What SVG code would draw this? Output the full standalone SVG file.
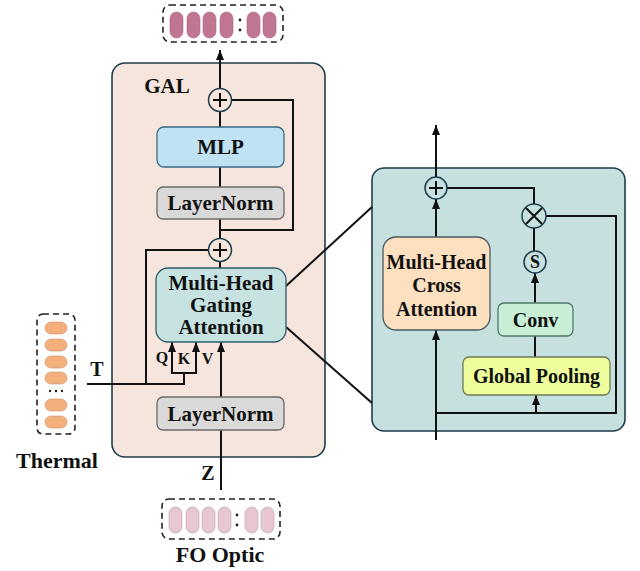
<svg xmlns="http://www.w3.org/2000/svg" width="640" height="571" viewBox="0 0 640 571">
  <style>
    text { font-family: "Liberation Serif", "Times New Roman", serif; font-weight: bold; fill: #111; text-anchor: middle; dominant-baseline: central; }
    .lbl { font-size: 21px; }
    .lbr { font-size: 20px; }
    .box { stroke-width: 1.3; }
    .wire { fill: none; stroke: #111; stroke-width: 2; }
    .arr { fill: none; stroke: #111; stroke-width: 2; marker-end: url(#ah); }
    .dash { fill: #fff; stroke: #222; stroke-width: 1.6; stroke-dasharray: 6 4; }
    .pillA { fill: #c07592; stroke: #a86680; stroke-width: 0.6; }
    .pillB { fill: #e8c6d2; stroke: #b9a0ab; stroke-width: 0.6; }
    .pillT { fill: #f4b07c; stroke: #c8906a; stroke-width: 0.6; }
  </style>
  <defs>
    <marker id="ah" markerUnits="userSpaceOnUse" markerWidth="10" markerHeight="10" viewBox="0 0 10 10" refX="10" refY="5" orient="auto">
      <path d="M0,1 L10,5 L0,9 Z" fill="#111"/>
    </marker>
  </defs>

  <rect width="640" height="571" fill="#fff"/>

  <!-- GAL container -->
  <g id="gal">
    <rect x="112" y="63" width="213" height="394" rx="13" fill="#f5e5dd" stroke="#1e3d4a" stroke-width="1.6"/>
    <text x="167" y="86" style="font-size:21px">GAL</text>
  </g>

  <!-- Detail panel -->
  <g id="detail">
    <rect x="372" y="168" width="253" height="263" rx="12" fill="#c6e0df" stroke="#1e3d4a" stroke-width="1.6"/>
  </g>

  <!-- connectors -->
  <g id="connectors">
    <!-- GAL trunk -->
    <line class="arr" x1="220" y1="88.5" x2="220" y2="50"/>
    <line class="wire" x1="220" y1="111.5" x2="220" y2="127"/>
    <line class="wire" x1="220" y1="167" x2="220" y2="187"/>
    <line class="wire" x1="220" y1="219" x2="220" y2="238.5"/>
    <polyline class="wire" points="231.5,100 293,100 293,230 220,230"/>
    <line class="wire" x1="220" y1="261.5" x2="220" y2="268"/>
    <polyline class="wire" points="208.5,250 146,250 146,384"/>
    <polyline class="wire" points="87,384 184,384 184,373"/>
    <line class="wire" x1="171" y1="373" x2="197" y2="373"/>
    <line class="arr" x1="172" y1="374" x2="172" y2="342"/>
    <line class="arr" x1="196" y1="374" x2="196" y2="342"/>
    <line class="arr" x1="221" y1="397" x2="221" y2="342"/>
    <line class="wire" x1="221" y1="490" x2="221" y2="430"/>
    <!-- zoom lines -->
    <line class="wire" x1="286" y1="286" x2="372" y2="207" stroke-width="1.8"/>
    <line class="wire" x1="286" y1="327" x2="372" y2="403" stroke-width="1.8"/>
    <!-- detail flow -->
    <line class="arr" x1="436" y1="177" x2="436" y2="125"/>
    <line class="arr" x1="436" y1="237" x2="436" y2="199"/>
    <polyline class="wire" points="447,188 534,188 534,204"/>
    <polyline class="wire" points="546,216 616,216 616,413 436,413"/>
    <line class="arr" x1="436" y1="440" x2="436" y2="330"/>
    <line class="arr" x1="536" y1="413" x2="536" y2="395"/>
    <line class="wire" x1="535" y1="357" x2="535" y2="336"/>
    <line class="arr" x1="535" y1="303" x2="535" y2="273"/>
    <line class="wire" x1="534" y1="251" x2="534" y2="228"/>
  </g>

  <!-- output tokens -->
  <g id="out-tokens">
    <rect class="dash" x="163" y="5" width="120" height="37" rx="7"/>
    <rect class="pillA" x="170" y="12" width="13" height="26" rx="6.5"/>
    <rect class="pillA" x="187" y="12" width="13" height="26" rx="6.5"/>
    <rect class="pillA" x="203" y="12" width="13" height="26" rx="6.5"/>
    <rect class="pillA" x="220" y="12" width="13" height="26" rx="6.5"/>
    <circle cx="240" cy="20" r="1.4" fill="#222"/>
    <circle cx="240" cy="30" r="1.4" fill="#222"/>
    <rect class="pillA" x="247" y="12" width="13" height="26" rx="6.5"/>
    <rect class="pillA" x="263" y="12" width="13" height="26" rx="6.5"/>
  </g>

  <g id="add-top">
    <circle cx="220" cy="100" r="11.5" fill="#f5e5dd" stroke="#1e3d4a" stroke-width="1.5"/>
    <path class="wire" d="M220,93 V107 M213,100 H227" stroke-width="1.6"/>
  </g>

  <g id="mlp">
    <rect class="box" x="157" y="127" width="127" height="40" rx="7" fill="#bfe3f3" stroke="#3b6b82"/>
    <text class="lbl" x="220.5" y="147">MLP</text>
  </g>

  <g id="layernorm-top">
    <rect class="box" x="157" y="187" width="127" height="32" rx="6" fill="#d9d9d9" stroke="#6a6a6a"/>
    <text class="lbl" x="220.5" y="203">LayerNorm</text>
  </g>

  <g id="add-mid">
    <circle cx="220" cy="250" r="11.5" fill="#f5e5dd" stroke="#1e3d4a" stroke-width="1.5"/>
    <path class="wire" d="M220,243 V257 M213,250 H227" stroke-width="1.6"/>
  </g>

  <g id="mhga">
    <rect class="box" x="156" y="268" width="130" height="74" rx="12" fill="#c6e3e1" stroke="#2f5d6b"/>
    <text class="lbl" x="221" y="283">Multi-Head</text>
    <text class="lbl" x="221" y="305">Gating</text>
    <text class="lbl" x="221" y="327">Attention</text>
  </g>

  <g id="qkv-labels">
    <text x="162" y="357" style="font-size:16px">Q</text>
    <text x="184" y="358" style="font-size:16px">K</text>
    <text x="207.5" y="358" style="font-size:16px">V</text>
    <text x="97" y="369" style="font-size:20px">T</text>
    <text x="208" y="473" style="font-size:20px">Z</text>
  </g>

  <g id="layernorm-bottom">
    <rect class="box" x="157" y="397" width="127" height="33" rx="6" fill="#d9d9d9" stroke="#6a6a6a"/>
    <text class="lbl" x="220.5" y="413.5">LayerNorm</text>
  </g>

  <g id="thermal">
    <rect class="dash" x="37" y="314" width="38" height="120" rx="6"/>
    <rect class="pillT" x="45" y="322" width="22" height="12" rx="6"/>
    <rect class="pillT" x="45" y="339" width="22" height="12" rx="6"/>
    <rect class="pillT" x="45" y="356" width="22" height="12" rx="6"/>
    <rect class="pillT" x="45" y="372" width="22" height="12" rx="6"/>
    <circle cx="50" cy="391" r="1.2" fill="#222"/>
    <circle cx="56" cy="391" r="1.2" fill="#222"/>
    <circle cx="62" cy="391" r="1.2" fill="#222"/>
    <rect class="pillT" x="45" y="399" width="22" height="12" rx="6"/>
    <rect class="pillT" x="45" y="416" width="22" height="12" rx="6"/>
    <text x="57" y="460" style="font-size:22px">Thermal</text>
  </g>

  <g id="fo-optic">
    <rect class="dash" x="162" y="499" width="118" height="40" rx="7"/>
    <rect class="pillB" x="169" y="507" width="13" height="26" rx="6.5"/>
    <rect class="pillB" x="186" y="507" width="13" height="26" rx="6.5"/>
    <rect class="pillB" x="202" y="507" width="13" height="26" rx="6.5"/>
    <rect class="pillB" x="218" y="507" width="13" height="26" rx="6.5"/>
    <circle cx="237" cy="515" r="1.4" fill="#222"/>
    <circle cx="237" cy="525" r="1.4" fill="#222"/>
    <rect class="pillB" x="245" y="507" width="13" height="26" rx="6.5"/>
    <rect class="pillB" x="261" y="507" width="13" height="26" rx="6.5"/>
    <text x="220" y="554" style="font-size:22px">FO Optic</text>
  </g>

  <!-- detail contents -->
  <g id="add-detail">
    <circle cx="436" cy="188" r="11" fill="#c6e0df" stroke="#1e3d4a" stroke-width="1.5"/>
    <path class="wire" d="M436,181 V195 M429,188 H443" stroke-width="1.6"/>
  </g>

  <g id="mul">
    <circle cx="534" cy="216" r="12" fill="#c6e0df" stroke="#1e3d4a" stroke-width="1.5"/>
    <path class="wire" d="M526,208 L542,224 M542,208 L526,224" stroke-width="1.6"/>
  </g>

  <g id="sigmoid">
    <circle cx="535" cy="262" r="11" fill="#c6e0df" stroke="#1e3d4a" stroke-width="1.5"/>
    <text x="535" y="262" style="font-size:18px">S</text>
  </g>

  <g id="mhca">
    <rect class="box" x="383" y="237" width="107" height="93" rx="13" fill="#fde0c0" stroke="#4a5a5f"/>
    <text class="lbr" x="436.5" y="262">Multi-Head</text>
    <text class="lbr" x="436.5" y="285">Cross</text>
    <text class="lbr" x="436.5" y="309">Attention</text>
  </g>

  <g id="conv">
    <rect class="box" x="498" y="303" width="75" height="33" rx="6" fill="#c8efd6" stroke="#4f7a6a"/>
    <text class="lbr" x="535.5" y="319.5">Conv</text>
  </g>

  <g id="global-pooling">
    <rect class="box" x="463" y="357" width="147" height="38" rx="6" fill="#eefe9c" stroke="#6f7a55"/>
    <text class="lbr" x="536.5" y="376">Global Pooling</text>
  </g>
</svg>
